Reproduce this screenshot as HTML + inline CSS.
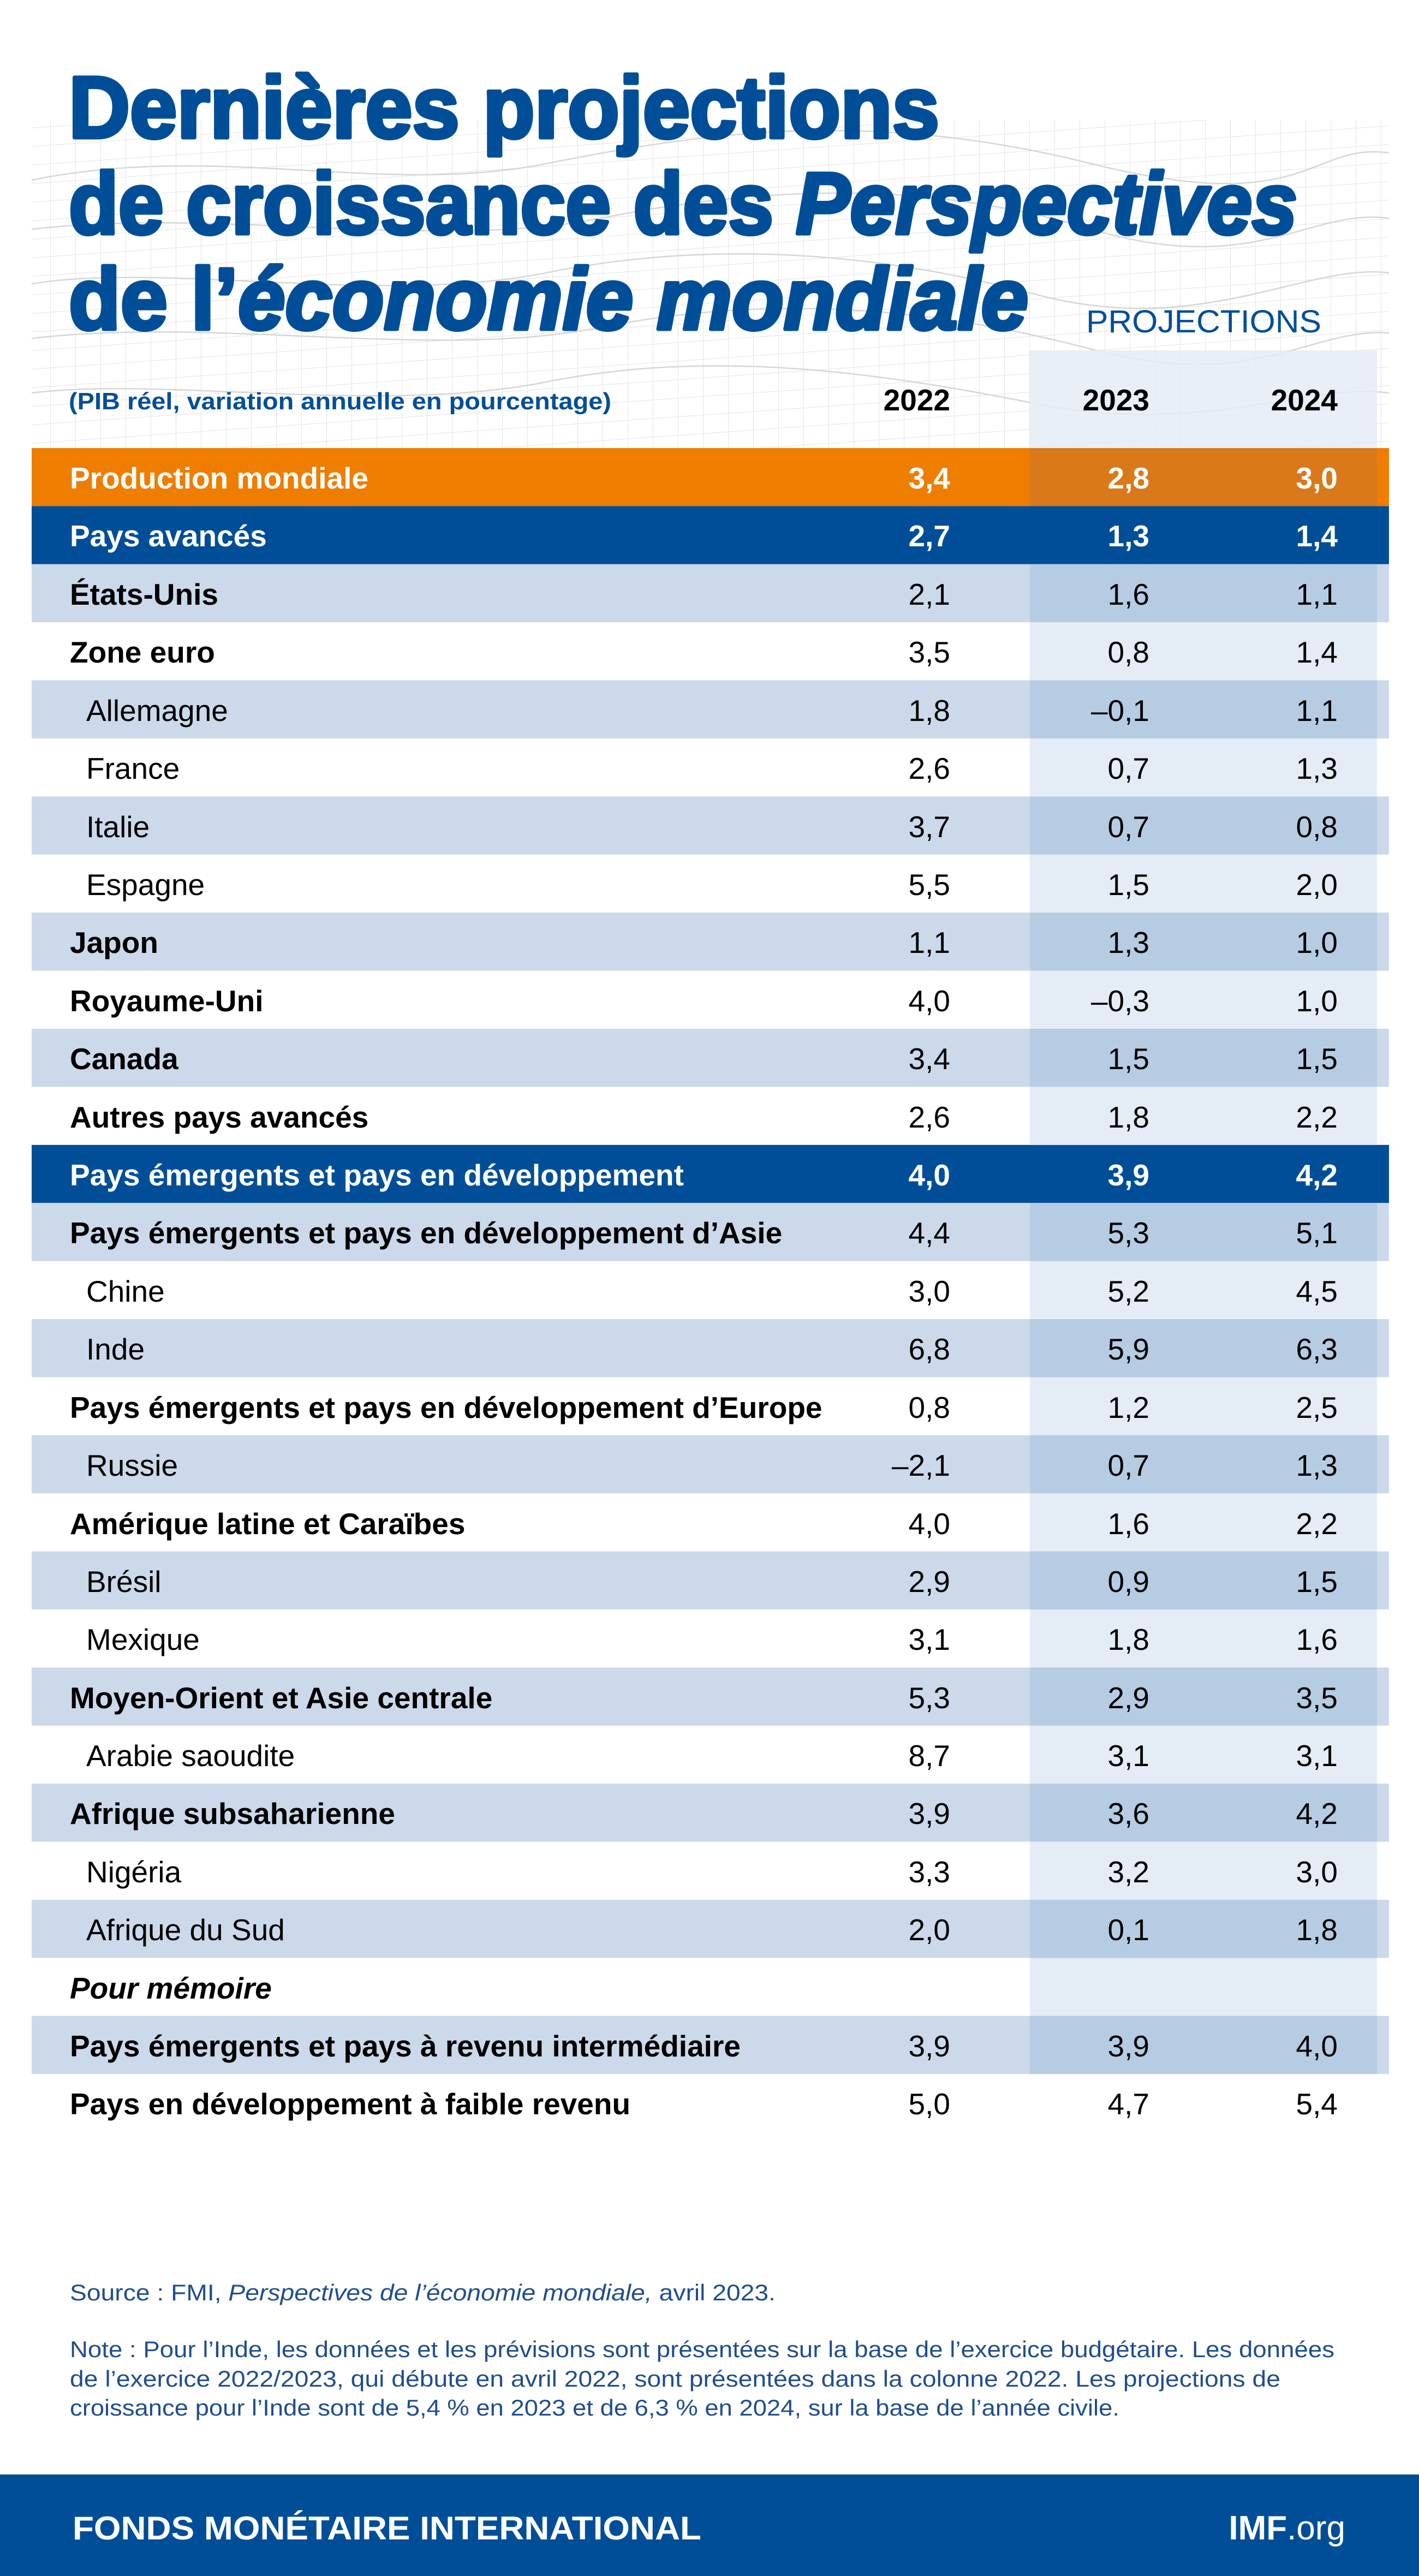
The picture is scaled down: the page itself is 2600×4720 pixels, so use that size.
<!DOCTYPE html>
<html><head><meta charset="utf-8"><style>
html,body{margin:0;padding:0;background:#fff}
svg{display:block}
text{font-family:"Liberation Sans",sans-serif}
</style></head><body>
<svg width="2600" height="4720" viewBox="0 0 2600 4720" xmlns="http://www.w3.org/2000/svg">
<defs>
<pattern id="mesh" width="46" height="34" patternUnits="userSpaceOnUse" patternTransform="skewY(-4)">
<path d="M0 0 L46 0 M0 0 L0 34" stroke="#e0e0e0" stroke-width="2" fill="none"/>
</pattern>
<clipPath id="mc"><rect x="58" y="220" width="2487" height="600"/></clipPath>
</defs>
<rect width="2600" height="4720" fill="#fff"/>
<g clip-path="url(#mc)">
<rect x="58" y="220" width="2487" height="600" fill="url(#mesh)" opacity="0.9"/>
<g stroke="#d6d6d6" stroke-width="2.5" fill="none">
<path d="M58 330 C400 260 700 360 1000 300 S1600 200 2000 300 S2400 260 2545 280"/>
<path d="M58 420 C400 380 800 460 1100 400 S1700 330 2000 420 S2400 380 2545 400"/>
<path d="M58 520 C300 480 700 560 1000 500 S1600 460 1900 540 S2400 480 2545 500"/>
<path d="M58 620 C400 580 800 660 1100 600 S1700 560 2000 640 S2400 600 2545 610"/>
<path d="M58 720 C300 690 700 760 1000 700 S1600 680 1900 740 S2400 700 2545 720"/>
</g>
</g>
<rect x="1887" y="642" width="636" height="179" fill="#e4ecf5" opacity="0.85"/>
<g fill="#004e98" font-weight="bold" stroke="#004e98" stroke-width="7" stroke-linejoin="round">
<text x="126" y="252" font-size="160" textLength="1595" lengthAdjust="spacingAndGlyphs">Dernières projections</text>
<text x="126" y="428" font-size="160" textLength="2251" lengthAdjust="spacingAndGlyphs">de croissance des <tspan font-style="italic">Perspectives</tspan></text>
<text x="126" y="603" font-size="160" textLength="1758" lengthAdjust="spacingAndGlyphs">de l’<tspan font-style="italic">économie mondiale</tspan></text>
</g>
<text x="1990" y="609" font-size="58" fill="#004e98" textLength="431" lengthAdjust="spacingAndGlyphs">PROJECTIONS</text>
<text x="126" y="750" font-size="44" font-weight="bold" fill="#004e98" textLength="994" lengthAdjust="spacingAndGlyphs">(PIB réel, variation annuelle en pourcentage)</text>
<g font-size="55" font-weight="bold" fill="#000" text-anchor="end">
<text x="1741" y="752">2022</text><text x="2106" y="752">2023</text><text x="2451" y="752">2024</text>
</g>

<rect x="58" y="821" width="2487" height="106.4" fill="#ee7d00"/>
<rect x="1887" y="821" width="636" height="106.4" fill="#d9791a"/>
<rect x="58" y="927.4" width="2487" height="106.4" fill="#004e98"/>
<rect x="58" y="2097.8" width="2487" height="106.4" fill="#004e98"/>
<g fill="#cbd9ea">
<rect x="58" y="1033.8" width="2487" height="106.4"/>
<rect x="58" y="1246.6" width="2487" height="106.4"/>
<rect x="58" y="1459.4" width="2487" height="106.4"/>
<rect x="58" y="1672.2" width="2487" height="106.4"/>
<rect x="58" y="1885" width="2487" height="106.4"/>
<rect x="58" y="2204.2" width="2487" height="106.4"/>
<rect x="58" y="2417" width="2487" height="106.4"/>
<rect x="58" y="2629.8" width="2487" height="106.4"/>
<rect x="58" y="2842.6" width="2487" height="106.4"/>
<rect x="58" y="3055.4" width="2487" height="106.4"/>
<rect x="58" y="3268.2" width="2487" height="106.4"/>
<rect x="58" y="3481" width="2487" height="106.4"/>
<rect x="58" y="3693.8" width="2487" height="106.4"/>
</g>
<g fill="#e4ecf5">
<rect x="1887" y="1140.2" width="636" height="106.4"/>
<rect x="1887" y="1353" width="636" height="106.4"/>
<rect x="1887" y="1565.8" width="636" height="106.4"/>
<rect x="1887" y="1778.6" width="636" height="106.4"/>
<rect x="1887" y="1991.4" width="636" height="106.4"/>
<rect x="1887" y="2310.6" width="636" height="106.4"/>
<rect x="1887" y="2523.4" width="636" height="106.4"/>
<rect x="1887" y="2736.2" width="636" height="106.4"/>
<rect x="1887" y="2949" width="636" height="106.4"/>
<rect x="1887" y="3161.8" width="636" height="106.4"/>
<rect x="1887" y="3374.6" width="636" height="106.4"/>
<rect x="1887" y="3587.4" width="636" height="106.4"/>
</g>
<g fill="#b6cce3">
<rect x="1887" y="1033.8" width="636" height="106.4"/>
<rect x="1887" y="1246.6" width="636" height="106.4"/>
<rect x="1887" y="1459.4" width="636" height="106.4"/>
<rect x="1887" y="1672.2" width="636" height="106.4"/>
<rect x="1887" y="1885" width="636" height="106.4"/>
<rect x="1887" y="2204.2" width="636" height="106.4"/>
<rect x="1887" y="2417" width="636" height="106.4"/>
<rect x="1887" y="2629.8" width="636" height="106.4"/>
<rect x="1887" y="2842.6" width="636" height="106.4"/>
<rect x="1887" y="3055.4" width="636" height="106.4"/>
<rect x="1887" y="3268.2" width="636" height="106.4"/>
<rect x="1887" y="3481" width="636" height="106.4"/>
<rect x="1887" y="3693.8" width="636" height="106.4"/>
</g>

<g font-size="55" fill="#fff" font-weight="bold">
<text x="128" y="895">Production mondiale</text>
<text x="128" y="1001">Pays avancés</text>
<text x="128" y="2172">Pays émergents et pays en développement</text>
</g>
<g font-size="55" fill="#fff" font-weight="bold" text-anchor="end">
<text x="1741" y="895">3,4</text><text x="2106" y="895">2,8</text><text x="2451" y="895">3,0</text>
<text x="1741" y="1001">2,7</text><text x="2106" y="1001">1,3</text><text x="2451" y="1001">1,4</text>
<text x="1741" y="2172">4,0</text><text x="2106" y="2172">3,9</text><text x="2451" y="2172">4,2</text>
</g>
<g font-size="55" fill="#000">
<g font-weight="bold">
<text x="128" y="1108">États-Unis</text>
<text x="128" y="1214">Zone euro</text>
<text x="128" y="1746">Japon</text>
<text x="128" y="1853">Royaume-Uni</text>
<text x="128" y="1959">Canada</text>
<text x="128" y="2066">Autres pays avancés</text>
<text x="128" y="2278">Pays émergents et pays en développement d’Asie</text>
<text x="128" y="2598">Pays émergents et pays en développement d’Europe</text>
<text x="128" y="2811">Amérique latine et Caraïbes</text>
<text x="128" y="3130">Moyen-Orient et Asie centrale</text>
<text x="128" y="3342">Afrique subsaharienne</text>
<text x="128" y="3662" font-style="italic">Pour mémoire</text>
<text x="128" y="3768">Pays émergents et pays à revenu intermédiaire</text>
<text x="128" y="3874">Pays en développement à faible revenu</text>
</g>
<text x="158" y="1321">Allemagne</text>
<text x="158" y="1427">France</text>
<text x="158" y="1534">Italie</text>
<text x="158" y="1640">Espagne</text>
<text x="158" y="2385">Chine</text>
<text x="158" y="2491">Inde</text>
<text x="158" y="2704">Russie</text>
<text x="158" y="2917">Brésil</text>
<text x="158" y="3023">Mexique</text>
<text x="158" y="3236">Arabie saoudite</text>
<text x="158" y="3449">Nigéria</text>
<text x="158" y="3555">Afrique du Sud</text>
</g>
<g font-size="55" fill="#000" text-anchor="end">
<text x="1741" y="1108">2,1</text><text x="2106" y="1108">1,6</text><text x="2451" y="1108">1,1</text>
<text x="1741" y="1214">3,5</text><text x="2106" y="1214">0,8</text><text x="2451" y="1214">1,4</text>
<text x="1741" y="1321">1,8</text><text x="2106" y="1321">–0,1</text><text x="2451" y="1321">1,1</text>
<text x="1741" y="1427">2,6</text><text x="2106" y="1427">0,7</text><text x="2451" y="1427">1,3</text>
<text x="1741" y="1534">3,7</text><text x="2106" y="1534">0,7</text><text x="2451" y="1534">0,8</text>
<text x="1741" y="1640">5,5</text><text x="2106" y="1640">1,5</text><text x="2451" y="1640">2,0</text>
<text x="1741" y="1746">1,1</text><text x="2106" y="1746">1,3</text><text x="2451" y="1746">1,0</text>
<text x="1741" y="1853">4,0</text><text x="2106" y="1853">–0,3</text><text x="2451" y="1853">1,0</text>
<text x="1741" y="1959">3,4</text><text x="2106" y="1959">1,5</text><text x="2451" y="1959">1,5</text>
<text x="1741" y="2066">2,6</text><text x="2106" y="2066">1,8</text><text x="2451" y="2066">2,2</text>
<text x="1741" y="2278">4,4</text><text x="2106" y="2278">5,3</text><text x="2451" y="2278">5,1</text>
<text x="1741" y="2385">3,0</text><text x="2106" y="2385">5,2</text><text x="2451" y="2385">4,5</text>
<text x="1741" y="2491">6,8</text><text x="2106" y="2491">5,9</text><text x="2451" y="2491">6,3</text>
<text x="1741" y="2598">0,8</text><text x="2106" y="2598">1,2</text><text x="2451" y="2598">2,5</text>
<text x="1741" y="2704">–2,1</text><text x="2106" y="2704">0,7</text><text x="2451" y="2704">1,3</text>
<text x="1741" y="2811">4,0</text><text x="2106" y="2811">1,6</text><text x="2451" y="2811">2,2</text>
<text x="1741" y="2917">2,9</text><text x="2106" y="2917">0,9</text><text x="2451" y="2917">1,5</text>
<text x="1741" y="3023">3,1</text><text x="2106" y="3023">1,8</text><text x="2451" y="3023">1,6</text>
<text x="1741" y="3130">5,3</text><text x="2106" y="3130">2,9</text><text x="2451" y="3130">3,5</text>
<text x="1741" y="3236">8,7</text><text x="2106" y="3236">3,1</text><text x="2451" y="3236">3,1</text>
<text x="1741" y="3342">3,9</text><text x="2106" y="3342">3,6</text><text x="2451" y="3342">4,2</text>
<text x="1741" y="3449">3,3</text><text x="2106" y="3449">3,2</text><text x="2451" y="3449">3,0</text>
<text x="1741" y="3555">2,0</text><text x="2106" y="3555">0,1</text><text x="2451" y="3555">1,8</text>
<text x="1741" y="3768">3,9</text><text x="2106" y="3768">3,9</text><text x="2451" y="3768">4,0</text>
<text x="1741" y="3874">5,0</text><text x="2106" y="3874">4,7</text><text x="2451" y="3874">5,4</text>
</g>

<g font-size="42" fill="#1f4e8c">
<text x="128" y="4215" textLength="1293" lengthAdjust="spacingAndGlyphs">Source : FMI, <tspan font-style="italic">Perspectives de l’économie mondiale,</tspan> avril 2023.</text>
<text x="128" y="4319" textLength="2317" lengthAdjust="spacingAndGlyphs">Note : Pour l’Inde, les données et les prévisions sont présentées sur la base de l’exercice budgétaire. Les données</text>
<text x="128" y="4373" textLength="2218" lengthAdjust="spacingAndGlyphs">de l’exercice 2022/2023, qui débute en avril 2022, sont présentées dans la colonne 2022. Les projections de</text>
<text x="128" y="4426" textLength="1923" lengthAdjust="spacingAndGlyphs">croissance pour l’Inde sont de 5,4 % en 2023 et de 6,3 % en 2024, sur la base de l’année civile.</text>
</g>

<rect x="0" y="4534" width="2600" height="186" fill="#004e98"/>
<text x="133" y="4653" font-size="60" font-weight="bold" fill="#fff" textLength="1152" lengthAdjust="spacingAndGlyphs">FONDS MONÉTAIRE INTERNATIONAL</text>
<text x="2465" y="4653" font-size="62" fill="#fff" text-anchor="end"><tspan font-weight="bold">IMF</tspan>.org</text>
</svg>
</body></html>
